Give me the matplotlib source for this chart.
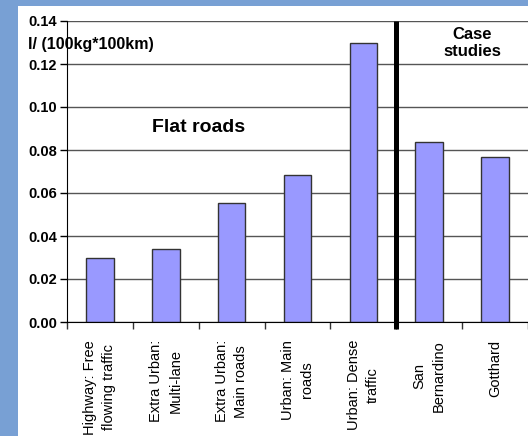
import matplotlib.pyplot as plt
from matplotlib.patches import Rectangle

# 数据
categories = ['Highway: Free\nflowing traffic', 'Extra Urban:\nMulti-lane', 'Extra Urban:\nMain roads',
              'Urban: Main\nroads', 'Urban: Dense\ntraffic', 'San\nBernardino', 'Gotthard']
values = [0.0296, 0.0340, 0.0553, 0.0684, 0.1296, 0.0839, 0.0769]
y_ticks = [0.00, 0.02, 0.04, 0.06, 0.08, 0.10, 0.12, 0.14]

plt.rcParams['font.family'] = ['Liberation Sans', 'DejaVu Sans']

fig = plt.figure(figsize=(5.28, 4.36), dpi=100)
fig.patch.set_facecolor('#78a0d4')
# 白色背景板
fig.patches.append(Rectangle((18 / 528, 0), 1, 1 - 6 / 436, transform=fig.transFigure,
                             facecolor='white', edgecolor='none', zorder=-10))

ax = fig.add_axes([67 / 528, 1 - 322 / 436, (528 - 67) / 528, (322 - 21) / 436])
ax.set_facecolor('white')
ax.set_axisbelow(True)

x = list(range(len(categories)))
ax.bar(x, values, width=0.42, color='#9999ff', edgecolor='#333333', linewidth=1)

ax.set_xlim(-0.5, len(categories) - 0.5)
ax.set_ylim(0, 0.14)
ax.set_yticks(y_ticks)
ax.set_yticklabels(['%.2f' % v for v in y_ticks], fontsize=10.5, fontweight='bold')
ax.yaxis.grid(True, color='#555555', linewidth=1)
ax.tick_params(axis='y', length=5, width=1, pad=2, color='black')

ax.set_xticks(x)
ax.set_xticklabels(categories, rotation=90, fontsize=10.5, ma='center', linespacing=1.45)
ax.tick_params(axis='x', which='major', length=0, pad=13)
ax.set_xticks([i - 0.5 for i in range(len(categories) + 1)], minor=True)
ax.tick_params(axis='x', which='minor', length=5, width=1, color='#333333')

for s in ['top', 'right']:
    ax.spines[s].set_visible(False)
ax.spines['left'].set_color('black')
ax.spines['bottom'].set_color('black')

# 分隔线
ax.plot([4.5, 4.5], [-0.0034, 0.14], color='black', linewidth=3.6, clip_on=False,
        solid_capstyle='butt', zorder=5)

ax.text(1.5, 0.0905, 'Flat roads', fontsize=14, fontweight='bold', ha='center', va='center')
ax.text(5.65, 0.1298, 'Case\nstudies', fontsize=12, fontweight='bold', ha='center', va='center',
        linespacing=1.2)
fig.text(28 / 528, 1 - 45 / 436, 'I/ (100kg*100km)', fontsize=11.5, fontweight='bold',
         ha='left', va='center')

fig.savefig('out.png', dpi=100, facecolor=fig.get_facecolor())
